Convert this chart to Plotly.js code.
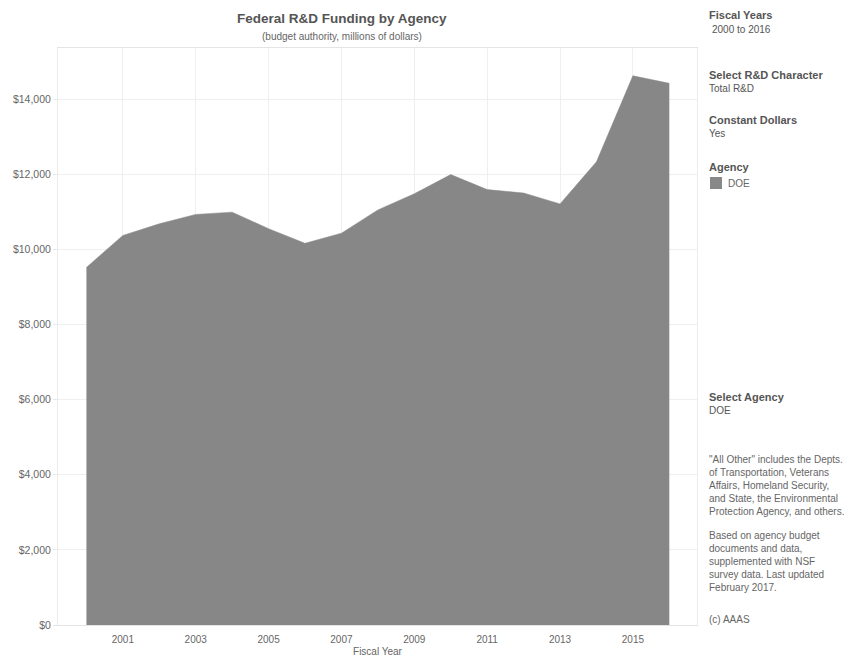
<!DOCTYPE html>
<html>
<head>
<meta charset="utf-8">
<script src="https://cdn.plot.ly/plotly-3.0.1.min.js"></script>
<style>html,body{margin:0;padding:0;background:#fff;}#chart{width:854px;height:659px;}</style>
</head>
<body>
<div id="chart"></div>
<script>
const years = [2000,2001,2002,2003,2004,2005,2006,2007,2008,2009,2010,2011,2012,2013,2014,2015,2016];
const doeFunding = [9520,10370,10680,10930,10990,10550,10160,10430,11050,11480,11990,11590,11500,11210,12330,14620,14420];
const xTickYears = [2001,2003,2005,2007,2009,2011,2013,2015];
const yTicks = [0,2000,4000,6000,8000,10000,12000,14000];
const yTickLabels = ['$0','$2,000','$4,000','$6,000','$8,000','$10,000','$12,000','$14,000'];
const agencyName = 'DOE';
const noteOther = '"All Other" includes the Depts.<br>of Transportation, Veterans<br>Affairs, Homeland Security,<br>and State, the Environmental<br>Protection Agency, and others.';
const noteSource = 'Based on agency budget<br>documents and data,<br>supplemented with NSF<br>survey data. Last updated<br>February 2017.';

const W = 854, H = 659;
const L = 58, R = 697, T = 48, B = 625;
const px = x => (x - L) / (R - L);
const py = y => (B - y) / (B - T);
const FONT = 'Arial, "Liberation Sans", sans-serif';

function txt(x, y, text, size, bold, color, extra) {
  return Object.assign({
    xref: 'paper', yref: 'paper', x: px(x), y: py(y),
    xanchor: 'left', yanchor: 'middle', showarrow: false, align: 'left',
    text: bold ? '<b>' + text + '</b>' : text,
    font: {family: FONT, size: size, color: color}
  }, extra || {});
}

const annotations = [
  txt(342, 19, 'Federal R&D Funding by Agency', 13.5, true, '#555', {xanchor: 'center'}),
  txt(342, 37, '(budget authority, millions of dollars)', 10, false, '#666', {xanchor: 'center'}),
  txt(707, 15, 'Fiscal Years', 11, true, '#555'),
  txt(710, 29, '2000 to 2016', 10, false, '#555'),
  txt(707, 75, 'Select R&D Character', 11, true, '#555'),
  txt(707, 89, 'Total R&D', 10, false, '#555'),
  txt(707, 120, 'Constant Dollars', 11, true, '#555'),
  txt(707, 133, 'Yes', 10, false, '#555'),
  txt(707, 167, 'Agency', 11, true, '#555'),
  txt(726, 183, agencyName, 10, false, '#666'),
  txt(707, 397, 'Select Agency', 11, true, '#555'),
  txt(707, 410, agencyName, 10, false, '#555'),
  txt(707, 485, noteOther, 10, false, '#666'),
  txt(707, 561, noteSource, 10, false, '#666'),
  txt(707, 619, '(c) AAAS', 10, false, '#666')
];

const shapes = [
  {type: 'rect', xref: 'paper', yref: 'paper', x0: px(710), x1: px(722), y0: py(177), y1: py(189),
   fillcolor: '#888888', line: {width: 0}}
];

const trace = {
  x: years, y: doeFunding, type: 'scatter', mode: 'lines', fill: 'tozeroy',
  fillcolor: '#878787', line: {color: '#878787', width: 0.5}, name: agencyName,
  hoverinfo: 'x+y'
};

const layout = {
  width: W, height: H,
  margin: {l: L, r: W - R, t: T, b: H - B, pad: 0},
  paper_bgcolor: '#ffffff', plot_bgcolor: '#ffffff',
  showlegend: false,
  font: {family: FONT, size: 10, color: '#666'},
  xaxis: {
    range: [1999.22, 2016.76], tickvals: xTickYears, ticktext: xTickYears.map(String),
    showgrid: true, gridcolor: '#efefef', gridwidth: 1,
    zeroline: false, showline: true, linecolor: '#e4e4e4', mirror: true,
    ticks: 'outside', ticklen: 5, tickcolor: 'rgba(0,0,0,0)',
    tickfont: {family: FONT, size: 10, color: '#666'},
    title: {text: 'Fiscal Year', font: {family: FONT, size: 10, color: '#666'}, standoff: 3}
  },
  yaxis: {
    range: [0, 15360], tickvals: yTicks, ticktext: yTickLabels,
    showgrid: true, gridcolor: '#efefef', gridwidth: 1,
    zeroline: false, showline: true, linecolor: '#ececec', mirror: true,
    ticks: 'outside', ticklen: 4, tickcolor: '#e8e8e8',
    tickfont: {family: FONT, size: 10.5, color: '#666'}
  },
  annotations: annotations,
  shapes: shapes
};

Plotly.newPlot('chart', [trace], layout, {displayModeBar: false, staticPlot: true});
</script>
</body>
</html>
